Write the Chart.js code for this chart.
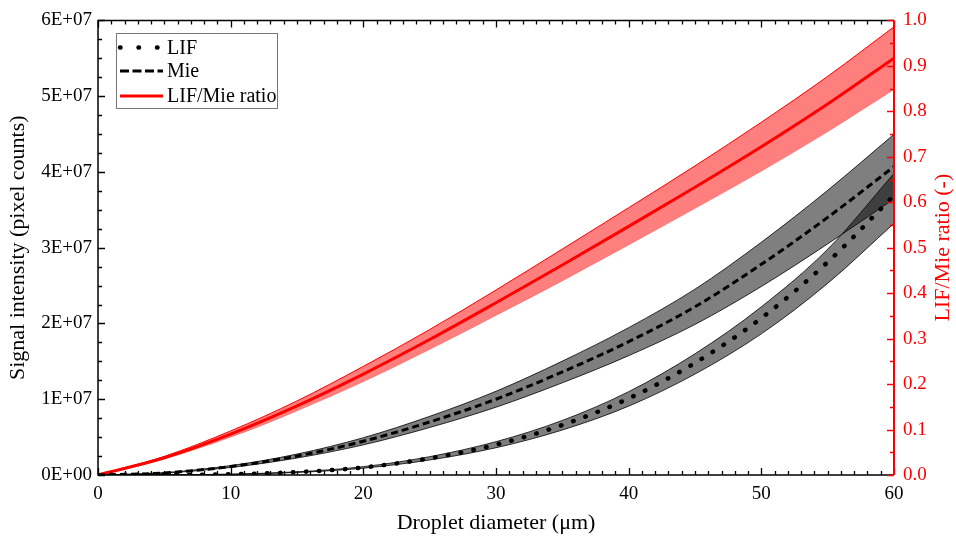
<!DOCTYPE html>
<html>
<head>
<meta charset="utf-8">
<script src="https://cdn.jsdelivr.net/npm/chart.js@4.4.1/dist/chart.umd.min.js"></script>
<style>
  body { margin: 0; background: #fff; }
  #wrap { width: 956px; height: 542px; }
</style>
</head>
<body>
<div id="wrap"><canvas id="signalChart" width="956" height="542"></canvas></div>
<script>
// Droplet diameter (um)
const diameters = [0, 5, 10, 15, 20, 25, 30, 35, 40, 45, 50, 55, 60];

// LIF signal (pixel counts) with its uncertainty band
const lifValues = [0, 2.0e4, 1.0e5, 3.8e5, 1.0e6, 2.2e6, 4.0e6, 6.6e6, 1.01e7, 1.48e7, 2.07e7, 2.81e7, 3.69e7];
const lifUpper  = [0, 2.2e4, 1.1e5, 4.2e5, 1.1e6, 2.42e6, 4.4e6, 7.2e6, 1.1e7, 1.6e7, 2.22e7, 2.98e7, 3.98e7];
const lifLower  = [0, 1.8e4, 9.0e4, 3.4e5, 9.0e5, 1.98e6, 3.6e6, 5.94e6, 9.09e6, 1.332e7, 1.863e7, 2.529e7, 3.321e7];

// Mie signal (pixel counts) with its uncertainty band
const mieValues = [0, 2.8e5, 1.12e6, 2.5e6, 4.45e6, 7.0e6, 1.0e7, 1.36e7, 1.76e7, 2.22e7, 2.78e7, 3.4e7, 4.07e7];
const mieUpper  = [0, 3.1e5, 1.24e6, 2.76e6, 4.92e6, 7.74e6, 1.105e7, 1.503e7, 1.945e7, 2.453e7, 3.072e7, 3.757e7, 4.497e7];
const mieLower  = [0, 2.5e5, 1.0e6, 2.24e6, 3.98e6, 6.27e6, 8.95e6, 1.217e7, 1.575e7, 1.987e7, 2.488e7, 3.05e7, 3.643e7];

// LIF/Mie ratio (-) with its band
const ratioValues = [0, 0.038, 0.090, 0.152, 0.222, 0.298, 0.379, 0.462, 0.547, 0.633, 0.722, 0.816, 0.917];
const ratioUpper  = [0, 0.041, 0.097, 0.163, 0.239, 0.320, 0.407, 0.497, 0.588, 0.680, 0.776, 0.877, 0.986];
const ratioLower  = [0, 0.035, 0.083, 0.141, 0.205, 0.276, 0.351, 0.427, 0.506, 0.586, 0.668, 0.755, 0.848];

// Axis tick labels
const leftTickLabels = ["0E+00", "1E+07", "2E+07", "3E+07", "4E+07", "5E+07", "6E+07"];
const rightTickLabels = ["0.0", "0.1", "0.2", "0.3", "0.4", "0.5", "0.6", "0.7", "0.8", "0.9", "1.0"];

const FONT = "'Liberation Serif', 'Times New Roman', serif";
const RED = "#ff0000";

function toPoints(values) {
  return diameters.map((d, i) => ({ x: d, y: values[i] }));
}

// Frame with inward major/minor ticks on all four sides
const frameTicks = {
  id: "frameTicks",
  afterDatasetsDraw(chart) {
    const { ctx, chartArea: a, scales } = chart;
    const x = scales.x, y = scales.y, y2 = scales.y2;
    ctx.save();
    ctx.lineCap = "butt";

    ctx.strokeStyle = "#000";
    ctx.lineWidth = 1.5;
    ctx.beginPath();
    ctx.moveTo(a.right, a.top);
    ctx.lineTo(a.left, a.top);
    ctx.lineTo(a.left, a.bottom);
    ctx.lineTo(a.right, a.bottom);
    ctx.stroke();

    ctx.lineWidth = 1.3;
    ctx.beginPath();
    for (let v = 0; v <= 60; v += 1) {
      const px = Math.round(x.getPixelForValue(v)) + 0.5;
      const len = v % 10 === 0 ? 7 : 4;
      ctx.moveTo(px, a.bottom);
      ctx.lineTo(px, a.bottom - len);
      ctx.moveTo(px, a.top);
      ctx.lineTo(px, a.top + len);
    }
    for (let k = 0; k <= 24; k++) {
      const py = Math.round(y.getPixelForValue(k * 2.5e6)) + 0.5;
      const len = k % 4 === 0 ? 7 : 4;
      ctx.moveTo(a.left, py);
      ctx.lineTo(a.left + len, py);
    }
    ctx.stroke();

    // right axis in red
    ctx.strokeStyle = RED;
    ctx.lineWidth = 2;
    ctx.beginPath();
    ctx.moveTo(a.right, a.top);
    ctx.lineTo(a.right, a.bottom);
    ctx.stroke();
    ctx.lineWidth = 1.3;
    ctx.beginPath();
    for (let k = 0; k <= 20; k++) {
      const py = Math.round(y2.getPixelForValue(k * 0.05)) + 0.5;
      const len = k % 2 === 0 ? 7 : 4;
      ctx.moveTo(a.right, py);
      ctx.lineTo(a.right - len, py);
    }
    ctx.stroke();

    // right axis title, reading bottom to top
    ctx.save();
    ctx.translate(943, (a.top + a.bottom) / 2);
    ctx.rotate(-Math.PI / 2);
    ctx.fillStyle = RED;
    ctx.font = "22px " + FONT;
    ctx.textAlign = "center";
    ctx.textBaseline = "middle";
    ctx.fillText("LIF/Mie ratio (-)", 0, 0);
    ctx.restore();
    ctx.restore();
  }
};

// Legend box in the upper left of the plot
const boxLegend = {
  id: "boxLegend",
  afterDraw(chart) {
    const { ctx } = chart;
    const entries = chart.data.datasets.filter(ds => ds.legendLabel);
    const box = { x: 116.5, y: 33.5, w: 161, h: 75 };
    const rows = [47.5, 71, 96];
    ctx.save();
    ctx.fillStyle = "#fff";
    ctx.fillRect(box.x, box.y, box.w, box.h);
    ctx.strokeStyle = "#777";
    ctx.lineWidth = 1;
    ctx.strokeRect(box.x, box.y, box.w, box.h);
    entries.forEach((ds, i) => {
      const ry = rows[i];
      ctx.strokeStyle = ds.borderColor;
      ctx.lineWidth = ds.borderWidth;
      ctx.lineCap = ds.borderCapStyle || "butt";
      ctx.setLineDash(ds.legendDash || []);
      ctx.beginPath();
      ctx.moveTo(120, ry);
      ctx.lineTo(163, ry);
      ctx.stroke();
      ctx.setLineDash([]);
      ctx.fillStyle = "#000";
      ctx.font = "20px " + FONT;
      ctx.textBaseline = "middle";
      ctx.fillText(ds.legendLabel, 167, ry + 1);
    });
    ctx.restore();
  }
};

function initSignalChart() {
  const ctx = document.getElementById("signalChart");

  const band = (values, axis, fill, color, width) => ({
    data: toPoints(values),
    yAxisID: axis,
    borderColor: color,
    borderWidth: width,
    backgroundColor: fill.color,
    fill: fill.target,
    pointRadius: 0,
    cubicInterpolationMode: "monotone"
  });

  const grey = "rgba(0,0,0,0.5)";
  const pink = "rgba(255,0,0,0.5)";

  new Chart(ctx, {
    type: "line",
    data: {
      datasets: [
        // centre lines first so they are drawn on top
        {
          legendLabel: "LIF",
          legendDash: [0.5, 18],
          data: toPoints(lifValues),
          yAxisID: "y",
          borderColor: "#000",
          borderWidth: 4.5,
          borderDash: [0.5, 12.5],
          borderCapStyle: "round",
          pointRadius: 0,
          fill: false,
          cubicInterpolationMode: "monotone"
        },
        {
          legendLabel: "Mie",
          legendDash: [9, 3.5],
          data: toPoints(mieValues),
          yAxisID: "y",
          borderColor: "#000",
          borderWidth: 3,
          borderDash: [7, 4],
          pointRadius: 0,
          fill: false,
          cubicInterpolationMode: "monotone"
        },
        {
          legendLabel: "LIF/Mie ratio",
          data: toPoints(ratioValues),
          yAxisID: "y2",
          borderColor: RED,
          borderWidth: 3,
          pointRadius: 0,
          fill: false,
          cubicInterpolationMode: "monotone"
        },
        // uncertainty bands
        band(ratioUpper, "y2", { target: "+1", color: pink }, RED, 1),
        band(ratioLower, "y2", { target: false, color: "transparent" }, "rgba(255,0,0,0.35)", 0.6),
        band(mieUpper, "y", { target: "+1", color: grey }, "#000", 0.8),
        band(mieLower, "y", { target: false, color: "transparent" }, "#000", 0.8),
        band(lifUpper, "y", { target: "+1", color: grey }, "#000", 0.8),
        band(lifLower, "y", { target: false, color: "transparent" }, "#000", 0.8)
      ]
    },
    options: {
      responsive: false,
      animation: false,
      events: [],
      layout: { padding: { top: 13, left: 0, right: 0, bottom: 0 } },
      plugins: { legend: { display: false }, tooltip: { enabled: false } },
      scales: {
        x: {
          type: "linear",
          min: 0,
          max: 60,
          grid: { display: false, drawTicks: false },
          border: { display: false },
          ticks: { stepSize: 10, maxRotation: 0, color: "#000", padding: 8, font: { family: FONT, size: 19 } },
          title: { display: true, text: "Droplet diameter (μm)", color: "#000", padding: { bottom: 6 }, font: { family: FONT, size: 22 } },
          afterFit: s => { s.height = 67; }
        },
        y: {
          position: "left",
          min: 0,
          max: 6e7,
          grid: { display: false, drawTicks: false },
          border: { display: false },
          ticks: {
            stepSize: 1e7,
            color: "#000",
            padding: 6,
            font: { family: FONT, size: 19 },
            callback: (v, i) => leftTickLabels[i]
          },
          title: { display: true, text: "Signal intensity (pixel counts)", color: "#000", padding: { top: 5 }, font: { family: FONT, size: 22 } },
          afterFit: s => { s.width = 98; }
        },
        y2: {
          position: "right",
          min: 0,
          max: 1,
          grid: { display: false, drawTicks: false },
          border: { display: false },
          ticks: {
            stepSize: 0.1,
            color: RED,
            padding: 9,
            font: { family: FONT, size: 19 },
            callback: (v, i) => rightTickLabels[i]
          },
          title: { display: false },
          afterFit: s => { s.width = 62; }
        }
      }
    },
    plugins: [frameTicks, boxLegend]
  });
}

document.addEventListener("DOMContentLoaded", function () {
  initSignalChart();
});
</script>
</body>
</html>
